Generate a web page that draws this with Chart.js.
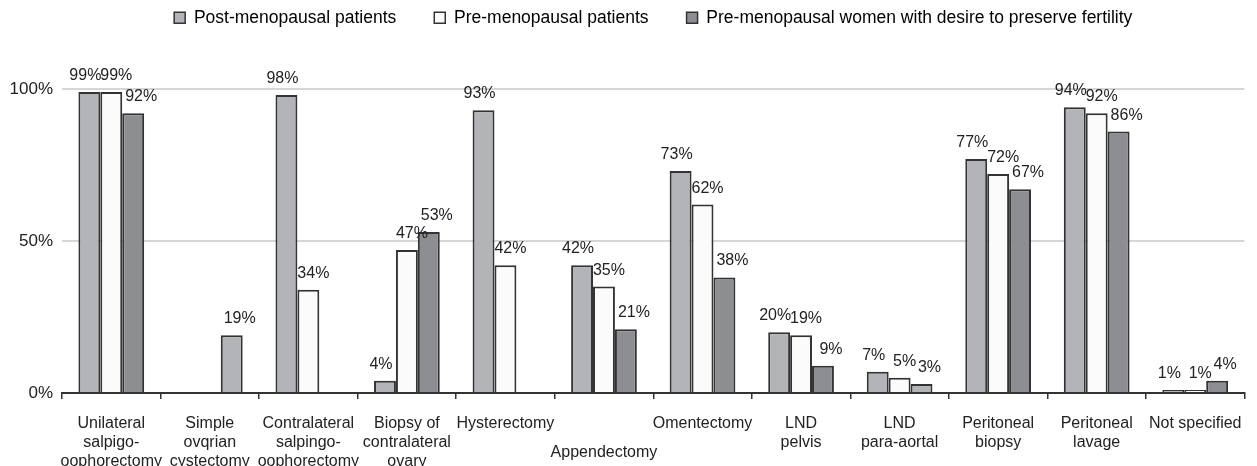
<!DOCTYPE html>
<html>
<head>
<meta charset="utf-8">
<script src="https://cdn.jsdelivr.net/npm/chart.js@4"></script>
<style>
    html, body { margin: 0; padding: 0; background: #fff; }
    #wrap { width: 1257px; height: 466px; }
</style>
</head>
<body>
<div id="wrap"><canvas id="procedures" width="1257" height="466"></canvas></div>
<script>
const categories = [
    ['Unilateral', 'salpigo-', 'oophorectomy'],
    ['Simple', 'ovqrian', 'cystectomy'],
    ['Contralateral', 'salpingo-', 'oophorectomy'],
    ['Biopsy of', 'contralateral', 'ovary'],
    'Hysterectomy',
    ['', 'Appendectomy'],
    'Omentectomy',
    ['LND', 'pelvis'],
    ['LND', 'para-aortal'],
    ['Peritoneal', 'biopsy'],
    ['Peritoneal', 'lavage'],
    'Not specified'
];
const seriesNames = [
    'Post-menopausal patients',
    'Pre-menopausal patients',
    'Pre-menopausal women with desire to preserve fertility'
];
const postMenopausal = [99, null, 98, 4, 93, 42, 73, 20, 7, 77, 94, 1];
const preMenopausal = [99, null, 34, 47, 42, 35, 62, 19, 5, 72, 92, 1];
const preserveFertility = [92, 19, null, 53, null, 21, 38, 9, 3, 67, 86, 4];
const yTicks = [0, 50, 100];

const FONT = '"Liberation Sans", Arial, Helvetica, sans-serif';
const LIGHT = '#b3b4b8';
const WHITE = '#fbfbfb';
const DARK = '#8d8e92';
const EDGE = '#333333';
// the original figure paints two of the third-series bars in the light tone
const fertilityColors = [DARK, LIGHT, DARK, DARK, DARK, DARK, DARK, DARK, LIGHT, DARK, DARK, DARK];
const labelShift = [-4, 5, 8];

const barLabels = {
    id: 'barLabels',
    afterDatasetsDraw(chart) {
        const ctx = chart.ctx;
        ctx.save();
        ctx.font = '16px ' + FONT;
        ctx.fillStyle = '#222';
        ctx.textAlign = 'center';
        ctx.textBaseline = 'alphabetic';
        chart.data.datasets.forEach((ds, i) => {
            chart.getDatasetMeta(i).data.forEach((bar, j) => {
                const v = ds.data[j];
                if (v == null) return;
                ctx.fillText(v + '%', bar.x + labelShift[i], bar.y - 12);
            });
        });
        ctx.restore();
    }
};

const legendHeight = {
    id: 'legendHeight',
    beforeInit(chart) {
        const fit = chart.legend.fit;
        chart.legend.fit = function () {
            fit.call(this);
            this.height = 118;
        };
    }
};

new Chart(document.getElementById('procedures').getContext('2d'), {
    type: 'bar',
    data: {
        labels: categories,
        datasets: [
            { label: seriesNames[0], data: postMenopausal, backgroundColor: LIGHT },
            { label: seriesNames[1], data: preMenopausal, backgroundColor: WHITE },
            { label: seriesNames[2], data: preserveFertility, backgroundColor: fertilityColors }
        ].map(d => Object.assign(d, {
            borderColor: EDGE,
            borderWidth: 2,
            categoryPercentage: 0.667,
            barPercentage: 1
        }))
    },
    options: {
        responsive: false,
        animation: false,
        devicePixelRatio: 1,
        layout: { padding: { top: -29, right: 6, left: 0, bottom: 0 } },
        plugins: {
            legend: {
                position: 'top',
                align: 'center',
                fullSize: false,
                labels: {
                    boxWidth: 11,
                    boxHeight: 11,
                    padding: 38,
                    color: '#222',
                    font: { family: FONT, size: 17.5 },
                    generateLabels: chart => chart.data.datasets.map((ds, i) => ({
                        text: ds.label,
                        fillStyle: [LIGHT, WHITE, DARK][i],
                        strokeStyle: EDGE,
                        lineWidth: 1.5,
                        datasetIndex: i
                    }))
                }
            },
            tooltip: { enabled: false }
        },
        scales: {
            x: {
                grid: {
                    offset: true,
                    drawOnChartArea: false,
                    drawTicks: true,
                    tickLength: 6,
                    color: EDGE,
                    lineWidth: 1.5
                },
                border: { display: true, color: EDGE, width: 2 },
                ticks: {
                    autoSkip: false,
                    maxRotation: 0,
                    padding: 15,
                    color: '#222',
                    font: ctx => {
                        const lab = ctx.tick && ctx.tick.label;
                        const dropped = Array.isArray(lab) && lab[0] === '';
                        return { family: FONT, size: 16, lineHeight: dropped ? 1.6 : 1.2 };
                    }
                },
                afterFit: s => { s.height = 73; }
            },
            y: {
                min: 0,
                max: 100,
                afterBuildTicks: s => { s.ticks = yTicks.map(v => ({ value: v })); },
                grid: {
                    drawTicks: false,
                    color: ctx => ctx.tick && ctx.tick.value === 0 ? 'rgba(0,0,0,0)' : '#d6d6d6',
                    lineWidth: 2
                },
                border: { display: false },
                ticks: {
                    padding: 9,
                    color: '#222',
                    font: { family: FONT, size: 17 },
                    callback: v => v + '%'
                },
                afterFit: s => { s.width = 62; }
            }
        }
    },
    plugins: [barLabels, legendHeight]
});
</script>
</body>
</html>
